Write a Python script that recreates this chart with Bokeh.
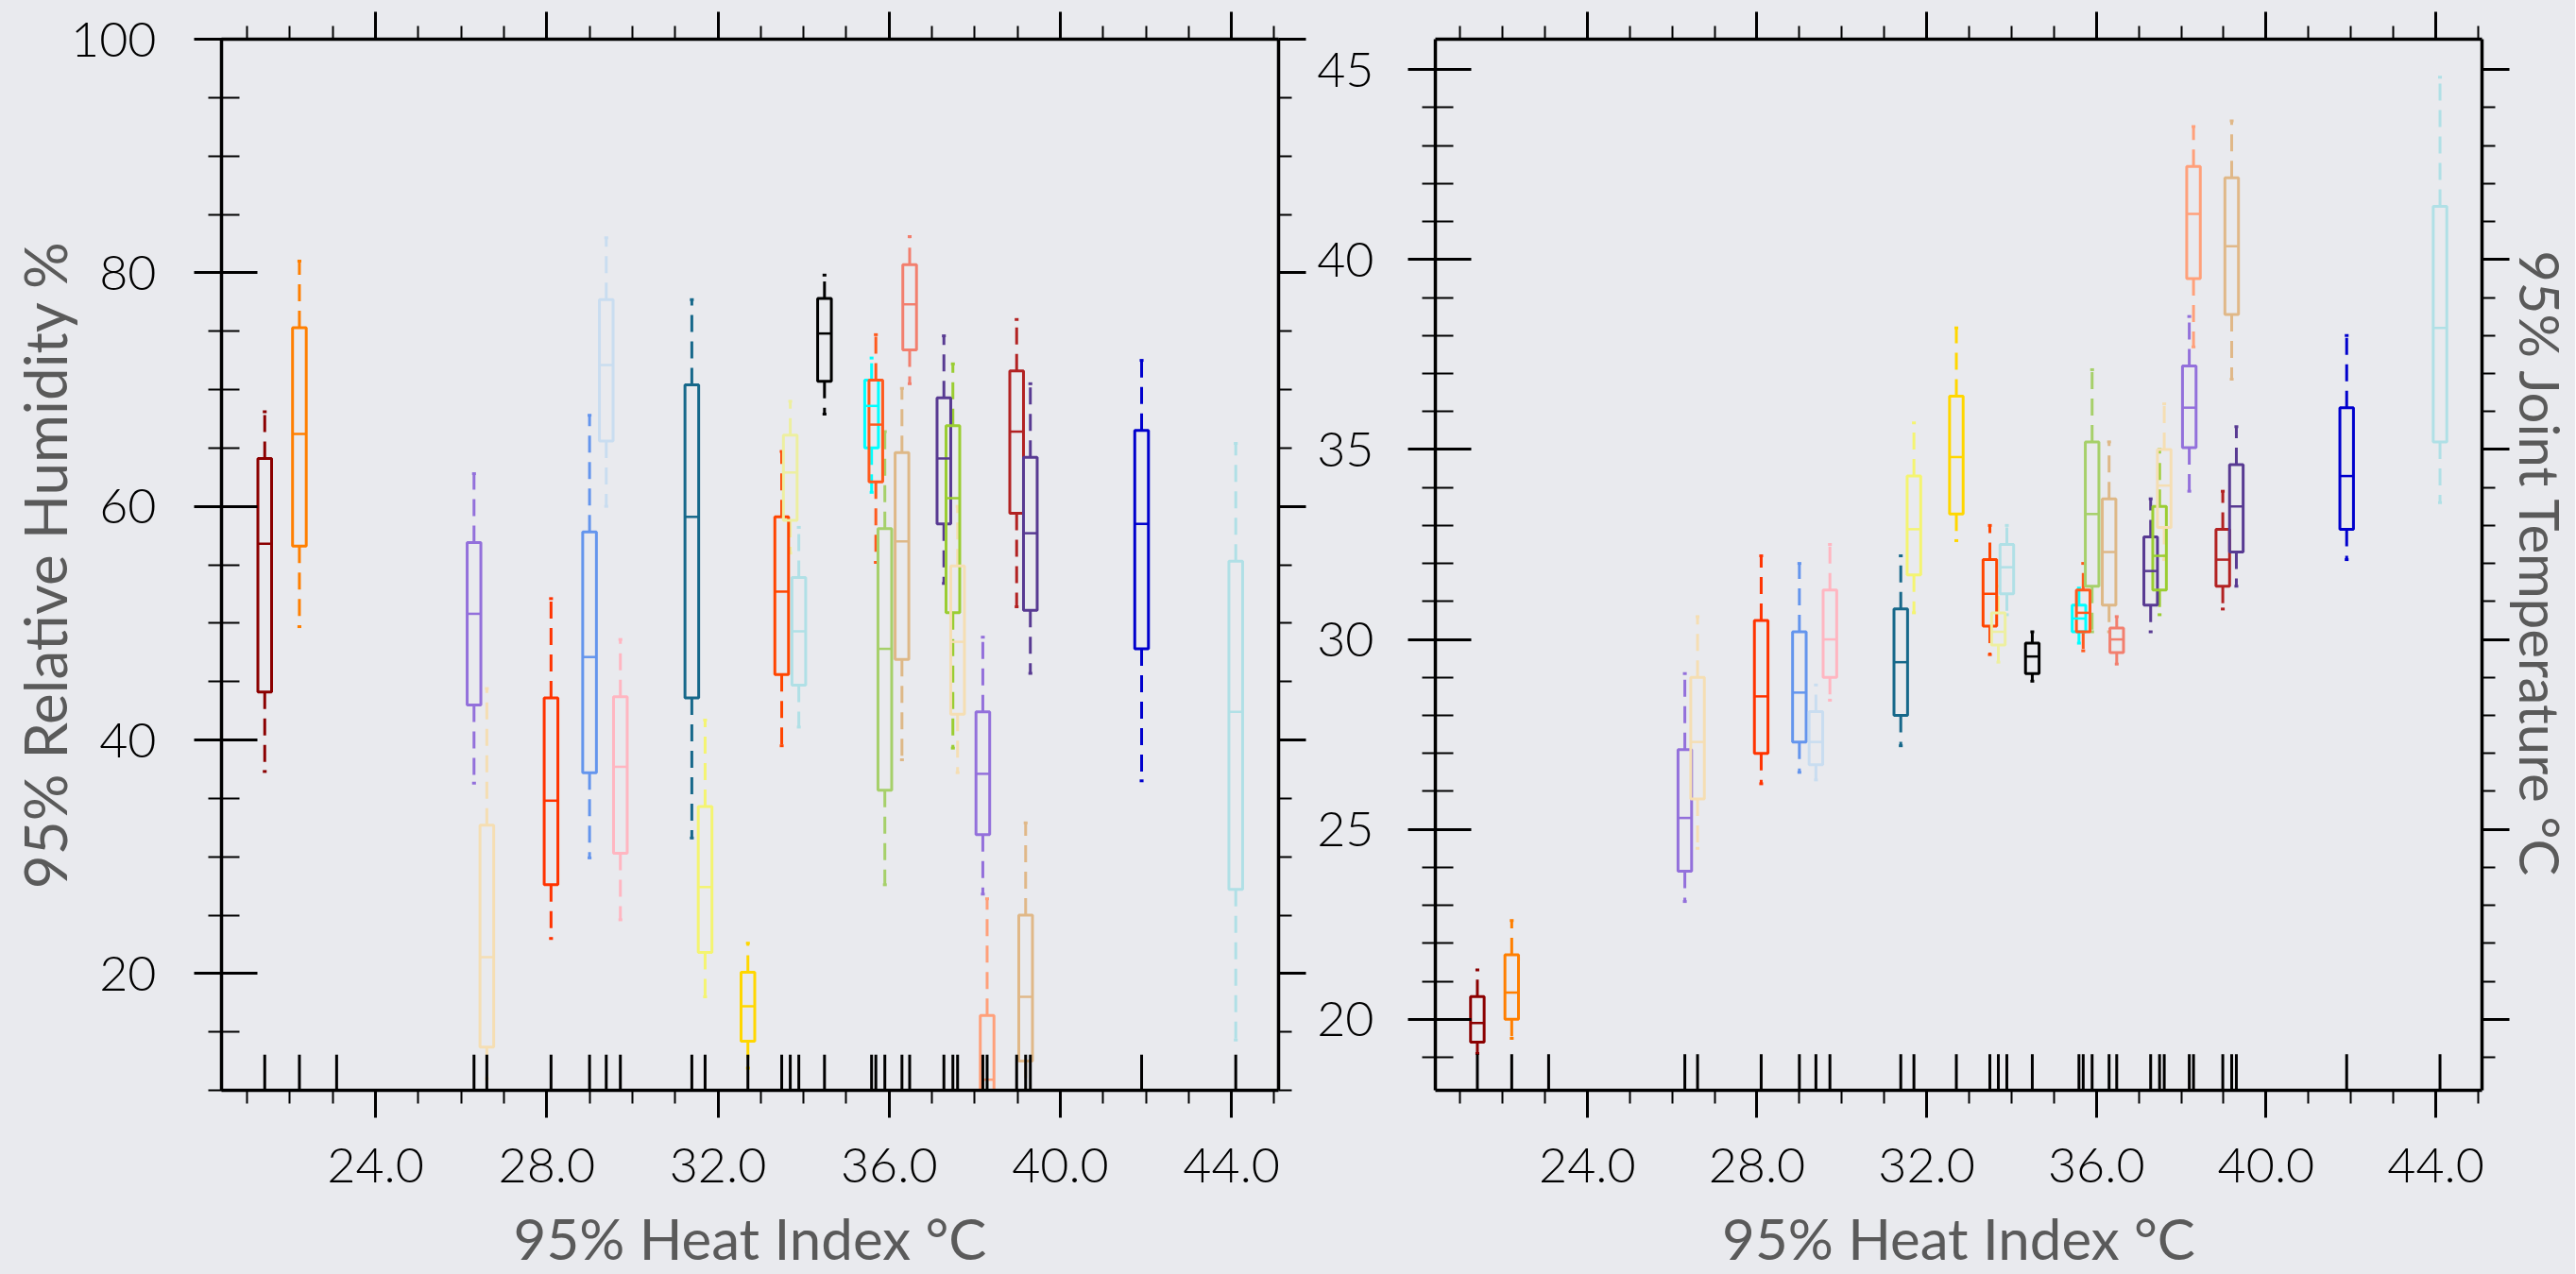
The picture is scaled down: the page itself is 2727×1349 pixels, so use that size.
from bokeh.plotting import figure
from bokeh.models import (LinearAxis, FixedTicker, Range1d, ColumnDataSource,
                          PrintfTickFormatter, CustomLabelingPolicy)
from bokeh.layouts import row
from bokeh.embed import file_html
from bokeh.resources import INLINE

# ---------------- data ----------------
heat_index = [21.41, 22.22, 26.30, 26.60, 28.10, 29.00, 29.39, 29.72, 31.39, 31.70,
              32.70, 33.49, 33.69, 33.89, 34.49, 35.59, 35.69, 35.90, 36.30, 36.48,
              37.28, 37.49, 37.60, 38.19, 38.29, 38.98, 39.19, 39.30, 41.90, 44.10]
rug_heat_index = [21.41, 22.22, 23.09, 26.30, 26.60, 28.10, 29.00, 29.39, 29.72, 31.39,
                  31.70, 32.70, 33.49, 33.69, 33.89, 34.49, 35.59, 35.69, 35.90, 36.30,
                  36.48, 37.28, 37.49, 37.60, 38.19, 38.29, 38.98, 39.19, 39.30, 41.90, 44.10]
colors = ["#8B0000", "#FF7F00", "#9370DB", "#F5DEB3", "#FF3300", "#6495ED", "#C9DDF0",
          "#FFB6C1", "#16688A", "#F4F471", "#FFD700", "#FF4500", "#EDEFA0", "#B0E0E6",
          "#000000", "#00FFFF", "#FF5A1E", "#A6D06A", "#DEB887", "#F27F6E", "#583A92",
          "#9ACD32", "#F5DEB3", "#9370DB", "#FFA07A", "#B22222", "#E0B888", "#583A92",
          "#0000CD", "#B0E0E6"]

# 95% Relative Humidity % (whisker low, Q1, median, Q3, whisker high)
rh_low  = [37.3, 49.7, 36.3, 11.0, 23.0, 29.9, 60.0, 24.6, 31.6, 18.0, 11.9, 39.5, 56.0, 41.1, 67.9,
           61.2, 55.2, 27.6, 38.3, 70.5, 53.4, 39.3, 37.2, 26.8, 6.0, 51.4, 6.0, 45.7, 36.5, 14.3]
rh_q1   = [44.1, 56.6, 43.0, 13.7, 27.6, 37.2, 65.6, 30.3, 43.6, 21.8, 14.2, 45.6, 58.8, 44.7, 70.7,
           65.0, 62.1, 35.7, 46.9, 73.4, 58.5, 50.9, 42.2, 31.9, 8.0, 59.4, 12.5, 51.1, 47.8, 27.2]
rh_med  = [56.8, 66.2, 50.8, 21.4, 34.8, 47.1, 72.1, 37.7, 59.1, 27.4, 17.2, 52.7, 62.9, 49.3, 74.8,
           68.6, 67.0, 47.8, 57.0, 77.3, 64.1, 60.7, 48.4, 37.1, 10.9, 66.4, 18.0, 57.7, 58.5, 42.4]
rh_q3   = [64.1, 75.3, 56.9, 32.7, 43.6, 57.8, 77.7, 43.7, 70.4, 34.3, 20.1, 59.1, 66.1, 53.9, 77.8,
           70.8, 70.8, 58.1, 64.6, 80.7, 69.3, 66.9, 54.9, 42.4, 16.4, 71.6, 25.0, 64.2, 66.5, 55.3]
rh_high = [68.1, 81.0, 62.8, 44.4, 52.1, 67.8, 83.0, 48.6, 77.7, 41.7, 22.6, 64.7, 69.0, 58.2, 79.8,
           72.7, 74.7, 66.4, 70.1, 83.1, 74.6, 72.2, 60.0, 48.8, 26.4, 76.0, 32.9, 70.5, 72.5, 65.4]

# 95% Joint Temperature °C
jt_low  = [19.1, 19.5, 23.1, 24.5, 26.2, 26.5, 26.3, 28.4, 27.2, 30.7, 32.6, 29.6, 29.4, 30.65, 28.9,
           29.9, 29.7, 30.2, 30.2, 29.35, 30.2, 30.65, 32.1, 33.9, 37.7, 30.8, 36.85, 31.4, 32.1, 33.6]
jt_q1   = [19.4, 20.0, 23.9, 25.8, 27.0, 27.3, 26.7, 29.0, 28.0, 31.7, 33.3, 30.35, 29.85, 31.2, 29.1,
           30.2, 30.2, 31.4, 30.9, 29.65, 30.9, 31.3, 32.95, 35.05, 39.5, 31.4, 38.55, 32.3, 32.9, 35.2]
jt_med  = [19.9, 20.7, 25.3, 27.3, 28.5, 28.6, 27.3, 30.0, 29.4, 32.9, 34.8, 31.2, 30.2, 31.9, 29.55,
           30.55, 30.7, 33.3, 32.3, 30.0, 31.8, 32.2, 34.05, 36.1, 41.2, 32.1, 40.35, 33.5, 34.3, 38.2]
jt_q3   = [20.6, 21.7, 27.1, 29.0, 30.5, 30.2, 28.1, 31.3, 30.8, 34.3, 36.4, 32.1, 30.7, 32.5, 29.9,
           30.9, 31.3, 35.2, 33.7, 30.3, 32.7, 33.5, 35.0, 37.2, 42.45, 32.9, 42.15, 34.6, 36.1, 41.4]
jt_high = [21.3, 22.6, 29.1, 30.6, 32.2, 32.0, 28.8, 32.5, 32.2, 35.7, 38.2, 33.0, 31.4, 33.0, 30.2,
           31.35, 32.0, 37.1, 35.2, 30.6, 33.7, 35.0, 36.2, 38.5, 43.5, 33.9, 43.65, 35.6, 38.0, 44.8]

x_major = [24, 28, 32, 36, 40, 44]
x_minor = list(range(21, 46))
rh_major = [20, 40, 60, 80, 100]
rh_minor = list(range(10, 101, 5))
jt_major = [20, 25, 30, 35, 40, 45]
jt_minor = list(range(19, 46))

x_title = "95% Heat Index °C"
rh_title = "95% Relative Humidity %"
jt_title = "95% Joint Temperature °C"

# ---------------- style ----------------
BG = "#e9eaee"
TICK_FONT = "Lato Light"
LABEL_FONT = "Lato"
LABEL_COLOR = "#5a5a5a"
TICK_SIZE = "52px"
H = 1376
BOTTOM_B = 222
BOX_W = 0.32
CAP_W = 0.09
RUG_PX = 38
LW = 3


def style_axis(ax, show_labels, out_major, in_major, out_minor, in_minor, standoff=0):
    ax.axis_line_width = 3.5
    ax.axis_line_color = "black"
    ax.major_tick_line_width = 3
    ax.minor_tick_line_width = 2
    ax.major_tick_line_color = "black"
    ax.minor_tick_line_color = "black"
    ax.major_tick_out = out_major
    ax.major_tick_in = in_major
    ax.minor_tick_out = out_minor
    ax.minor_tick_in = in_minor
    ax.major_label_standoff = standoff
    ax.major_label_text_font = TICK_FONT
    ax.major_label_text_color = "black"
    if show_labels:
        ax.major_label_text_font_size = TICK_SIZE
    else:
        ax.major_label_text_font_size = "1px"
        ax.major_label_policy = CustomLabelingPolicy(
            code="for (const i of indices) { indices.unset(i) }")
    ax.axis_label_text_font = LABEL_FONT
    ax.axis_label_text_font_style = "normal"
    ax.axis_label_text_color = LABEL_COLOR


def make_panel(width, borders, xr, yr, ymajor, yminor, lo, q1, med, q3, hi,
               left_title, right_title, frame_h, left_standoff):
    bl, br, bt, bb = borders
    p = figure(width=width, height=H, x_range=Range1d(*xr), y_range=Range1d(*yr),
               output_backend="svg", toolbar_location=None,
               x_axis_location=None, y_axis_location=None,
               min_border_left=bl, min_border_right=br, min_border_top=bt, min_border_bottom=bb,
               background_fill_color=BG, border_fill_color=BG, outline_line_color=None)
    p.xgrid.visible = False
    p.ygrid.visible = False

    xt = FixedTicker(ticks=x_major, minor_ticks=x_minor)
    yt = FixedTicker(ticks=ymajor, minor_ticks=yminor)

    bottom = LinearAxis(ticker=xt, formatter=PrintfTickFormatter(format="%.1f"),
                        axis_label=x_title)
    style_axis(bottom, True, 29, 0, 14, 0, standoff=32)
    bottom.axis_label_text_font_size = "60px"
    bottom.axis_label_standoff = 20
    p.add_layout(bottom, "below")

    top = LinearAxis(ticker=xt)
    style_axis(top, False, 29, 0, 14, 0)
    p.add_layout(top, "above")

    left = LinearAxis(ticker=yt)
    style_axis(left, True, 29, 38, 14, 19, standoff=left_standoff)
    if left_title:
        left.axis_label = left_title
        left.axis_label_text_font_size = "62px"
        left.axis_label_standoff = -12
    p.add_layout(left, "left")

    right = LinearAxis(ticker=yt)
    style_axis(right, False, 29, 0, 14, 0)
    if right_title:
        right.axis_label = right_title
        right.axis_label_text_font_size = "58px"
        right.axis_label_standoff = -6
    p.add_layout(right, "right")

    src = ColumnDataSource(dict(
        x=heat_index, left=[v - BOX_W / 2 for v in heat_index],
        right=[v + BOX_W / 2 for v in heat_index],
        cl=[v - CAP_W / 2 for v in heat_index], cr=[v + CAP_W / 2 for v in heat_index],
        lo=lo, q1=q1, med=med, q3=q3, hi=hi, color=colors))

    # whiskers (dashed) and caps
    p.segment(x0="x", y0="q3", x1="x", y1="hi", source=src, line_color="color",
              line_width=LW, line_dash="18 10")
    p.segment(x0="x", y0="q1", x1="x", y1="lo", source=src, line_color="color",
              line_width=LW, line_dash="18 10")
    p.segment(x0="cl", y0="hi", x1="cr", y1="hi", source=src, line_color="color", line_width=LW)
    p.segment(x0="cl", y0="lo", x1="cr", y1="lo", source=src, line_color="color", line_width=LW)
    # boxes and medians
    p.quad(left="left", right="right", bottom="q1", top="q3", source=src,
           fill_color=None, line_color="color", line_width=LW)
    p.segment(x0="left", y0="med", x1="right", y1="med", source=src,
              line_color="color", line_width=2.5)

    # rug along the bottom axis
    rug_len = RUG_PX * (yr[1] - yr[0]) / frame_h
    p.segment(x0=rug_heat_index, y0=[yr[0]] * len(rug_heat_index),
              x1=rug_heat_index, y1=[yr[0] + rug_len] * len(rug_heat_index),
              line_color="black", line_width=3)
    return p


p1 = make_panel(1389, (234, 36, 28, BOTTOM_B), (20.40, 45.10), (10, 100),
                rh_major, rh_minor, rh_low, rh_q1, rh_med, rh_q3, rh_high,
                rh_title, None, 1117, 40)
p2 = make_panel(1337, (130, 97, 41, BOTTOM_B), (20.42, 45.09), (18.13, 45.8),
                jt_major, jt_minor, jt_low, jt_q1, jt_med, jt_q3, jt_high,
                None, jt_title, 1108, 36)

layout = row(p1, p2, spacing=0)
layout.styles = {"background-color": BG}

open("out.html", "w").write(file_html(layout, INLINE))
